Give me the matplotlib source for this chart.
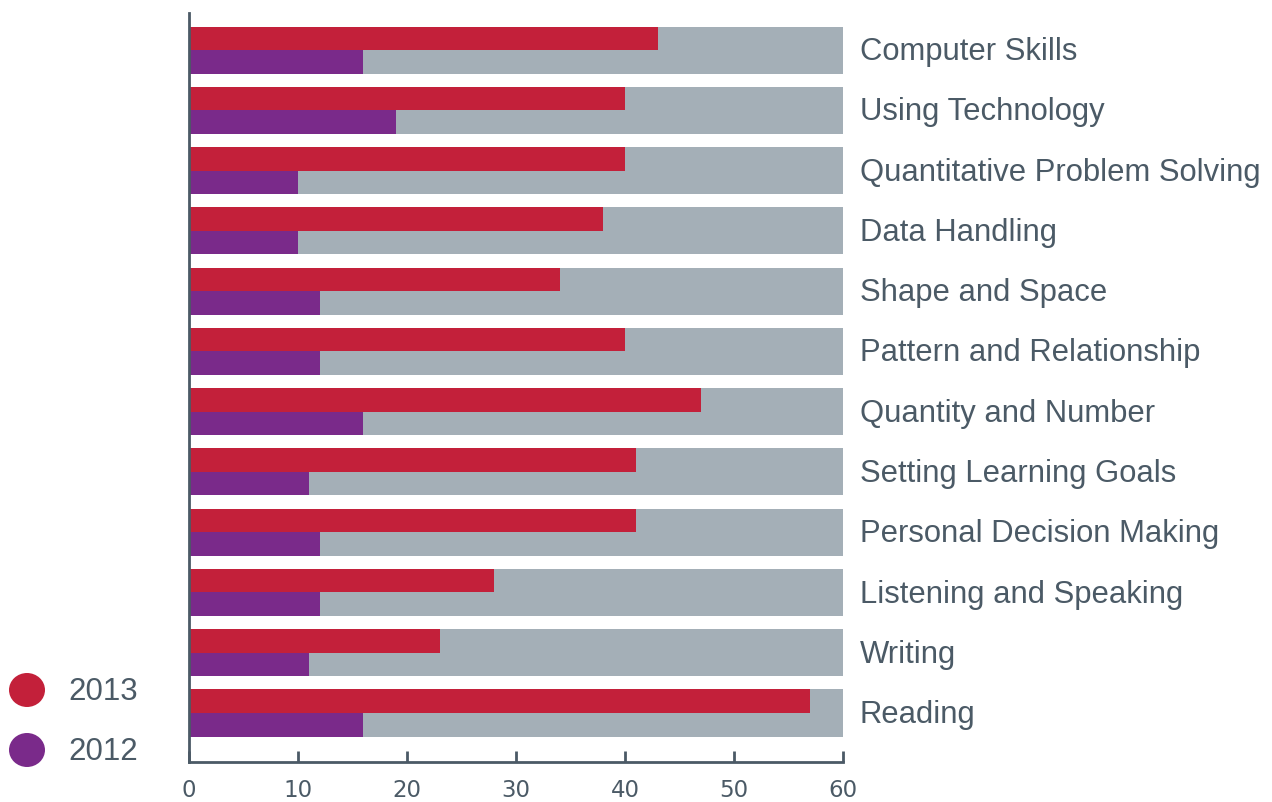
import matplotlib
matplotlib.use("Agg")
import matplotlib.pyplot as plt
from matplotlib.patches import Ellipse
import numpy as np

categories = ["Computer Skills", "Using Technology", "Quantitative Problem Solving",
              "Data Handling", "Shape and Space", "Pattern and Relationship",
              "Quantity and Number", "Setting Learning Goals", "Personal Decision Making",
              "Listening and Speaking", "Writing", "Reading"]
values_2013 = [43, 40, 40, 38, 34, 40, 47, 41, 41, 28, 23, 57]
values_2012 = [16, 19, 10, 10, 12, 12, 16, 11, 12, 12, 11, 16]
max_value = 60
xticks = [0, 10, 20, 30, 40, 50, 60]
years = ["2013", "2012"]

RED = "#C3203A"
PURPLE = "#7A2A8A"
GRAY = "#A4AFB7"
TEXT = "#4B5A66"
SPINE = "#4B5A66"

fig = plt.figure(figsize=(12.72, 8.02), dpi=100)
ax = fig.add_axes([189/1272, (802-762)/802, (843-189)/1272, (762-13)/802])

n = len(categories)
y = np.arange(n)[::-1]  # first category on top
h = 0.39
ax.barh(y, [max_value]*n, height=2*h, color=GRAY, linewidth=0)
ax.barh(y + h/2, values_2013, height=h, color=RED, linewidth=0)
ax.barh(y - h/2, values_2012, height=h, color=PURPLE, linewidth=0)

ax.set_xlim(0, max_value)
ax.set_ylim(-0.813, n - 1 + 0.614)
ax.set_xticks(xticks)
ax.set_xticklabels([str(t) for t in xticks], fontsize=16.5, color=TEXT, family="DejaVu Sans")
ax.set_yticks([])
ax.tick_params(axis="x", direction="in", length=8, width=2, color=SPINE, pad=12)
for s in ["top", "right"]:
    ax.spines[s].set_visible(False)
for s in ["left", "bottom"]:
    ax.spines[s].set_color(SPINE)
    ax.spines[s].set_linewidth(2)

for yi, name in zip(y, categories):
    ax.text(max_value + 1.55, yi - 0.035, name, va="center", ha="left", fontsize=22.3,
            color=TEXT, family="Liberation Sans", clip_on=False)

# legend
for i, (yr, col) in enumerate(zip(years, [RED, PURPLE])):
    ypix = 690 + 60 * i
    e = Ellipse((27/100, (802 - ypix)/100), 0.36, 0.34, transform=fig.dpi_scale_trans,
                color=col, linewidth=0)
    fig.add_artist(e)
    fig.text(68/1272, (802 - ypix - 2)/802, yr, va="center", ha="left", fontsize=22.5,
             color=TEXT, family="Liberation Sans")

fig.savefig("out.png", dpi=100)
